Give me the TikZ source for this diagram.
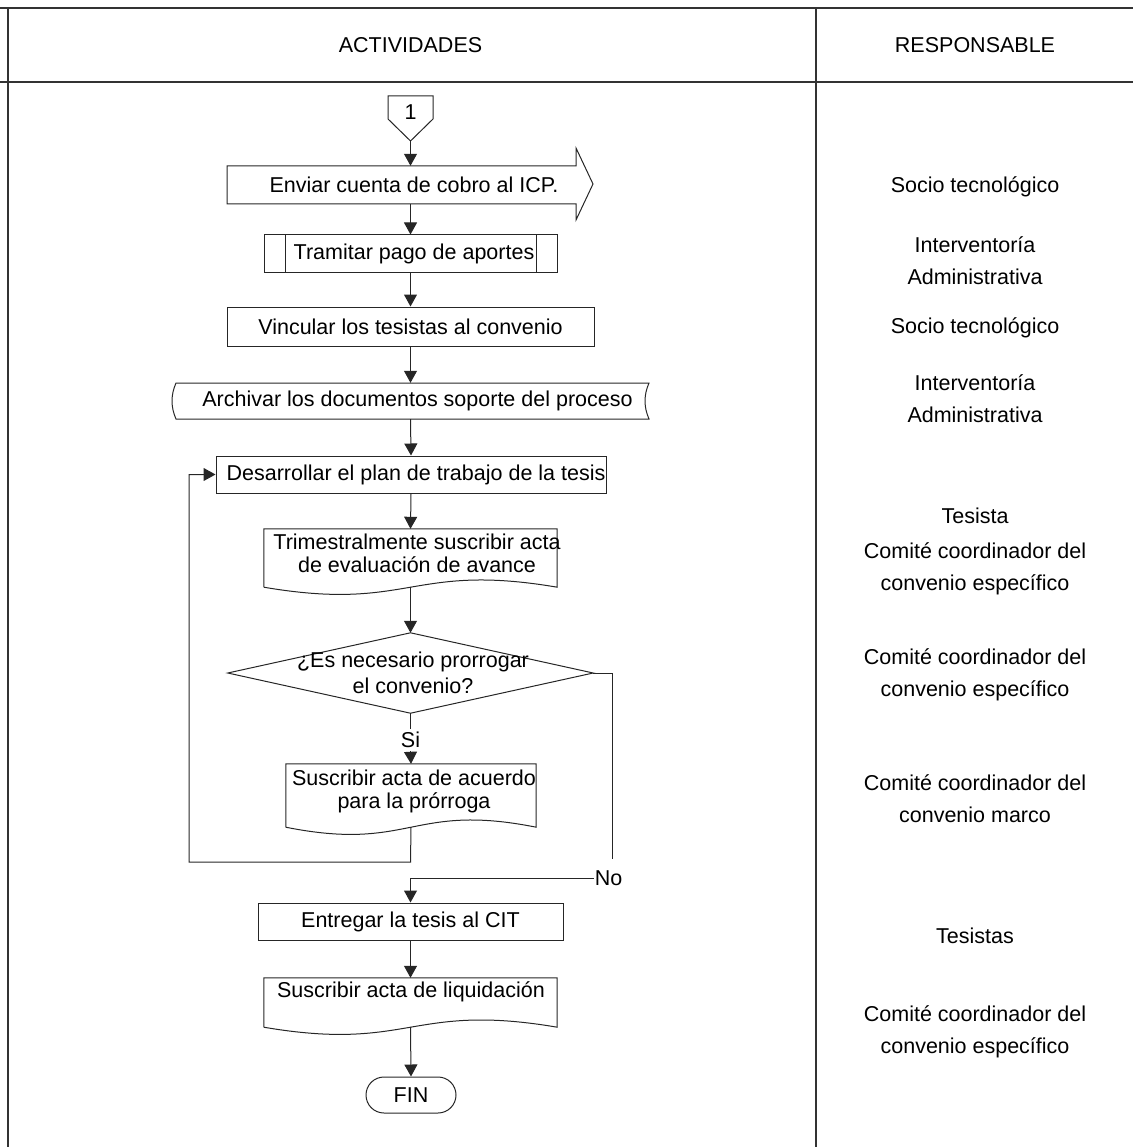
\documentclass[tikz,border=0pt]{standalone}
\usepackage{fontspec}
\setmainfont{Liberation Sans}
\usetikzlibrary{arrows.meta,calc}
\tikzset{
  ln/.style={line width=1pt, draw=black!85},
  arr/.style={ln, -{Triangle[width=13pt,length=12pt]}},
  txt/.style={font=\fontsize{21.5pt}{23.3pt}\selectfont, inner sep=0pt, align=center},
  rbox/.style={txt, draw=black!85, line width=1pt},
  shp/.style={inner sep=0pt, draw=none},
  gridln/.style={line width=2pt, draw=black!80},
  resp/.style={font=\fontsize{21.5pt}{32pt}\selectfont, align=center, inner sep=0pt},
}
\newcommand{\docshape}[1]{%
  \draw[ln] (#1.south west) -- (#1.north west) -- (#1.north east) -- (#1.south east)
    .. controls ($(#1.south)+(0,-25)$) and ($(#1.south)+(0,25)$) .. (#1.south west);}
\begin{document}
\begin{tikzpicture}[x=1pt,y=-1pt]
\useasboundingbox (0,0) rectangle (1133,1147);
% table
\draw[gridln] (0,8.5) -- (1133,8.5);
\draw[gridln] (0,82) -- (1133,82);
\draw[gridln] (8,8.5) -- (8,1147);
\draw[gridln] (816,8.5) -- (816,1147);
\node[resp] (h1) at (410.5,45) {ACTIVIDADES};
\node[resp] (h2) at (975,45) {RESPONSABLE};

% connector 1
\draw[ln] (388,96) -- (433,96) -- (433,119) -- (410.5,141) -- (388,119) -- cycle;
\node[txt] (c1) at (410.5,112) {1};
\coordinate (c1b) at (410.5,141);

% enviar (arrow shape)
\draw[ln] (227,166) -- (576,166) -- (576,148) -- (593,184) -- (576,220) -- (576,204) -- (227,204) -- cycle;
\node[txt, minimum height=38pt] (env) at (410.5,185) {\hspace*{7pt}Enviar cuenta de cobro al ICP.};

% tramitar (predefined process)
\node[rbox, minimum width=293pt, minimum height=38pt] (tra) at (410.5,254) {\hspace*{7pt}Tramitar pago de aportes};
\draw[ln] ([xshift=22pt]tra.north west) -- ([xshift=22pt]tra.south west);
\draw[ln] ([xshift=-21pt]tra.north east) -- ([xshift=-21pt]tra.south east);

% vincular
\node[rbox, minimum width=367pt, minimum height=39pt] (vin) at (410.5,326.5) {Vincular los tesistas al convenio};

% archivar (stored data)
\draw[ln] (176,383) -- (649,383) .. controls (643.7,395) and (643.7,407) .. (649,419)
  -- (176,419) .. controls (170.7,407) and (170.7,395) .. (176,383) -- cycle;
\node[txt, minimum height=36pt] (arc) at (410.5,401) {\hspace*{14pt}Archivar los documentos soporte del proceso};

% desarrollar
\node[rbox, minimum width=390pt, minimum height=37pt] (des) at (411,474.5) {\hspace*{10pt}Desarrollar el plan de trabajo de la tesis};

% trimestral (document)
\node[shp, minimum width=293pt, minimum height=58pt] (tri) at (410.5,558) {};
\docshape{tri}
\node[txt] (trit) at (417,553.5) {Trimestralmente suscribir acta\\de evaluación de avance};

% decision
\node[shp, minimum width=365pt, minimum height=80pt] (dec) at (410.5,673) {};
\draw[ln] (dec.north) -- (dec.east) -- (dec.south) -- (dec.west) -- cycle;
\node[txt, font=\fontsize{21.5pt}{26pt}\selectfont] (dect) at (413,673) {¿Es necesario prorrogar\\el convenio?};
\node[txt, minimum height=22pt] (si) at (410.5,740) {Si};

% acuerdo (document)
\node[shp, minimum width=250pt, minimum height=63pt] (acu) at (411,795.5) {};
\docshape{acu}
\node[txt] (acut) at (414,791.5) {Suscribir acta de acuerdo\\para la prórroga};

% No label
\node[txt, minimum height=38pt, inner xsep=1pt] (no) at (608.5,878) {No};

% entregar
\node[rbox, minimum width=305pt, minimum height=37pt] (ent) at (410.5,921.5) {Entregar la tesis al CIT};

% liquidacion (document)
\node[shp, minimum width=293pt, minimum height=49pt] (liq) at (410.5,1002.5) {};
\docshape{liq}
\node[txt] (liqt) at (411,992) {Suscribir acta de liquidación};

% FIN
\node[rbox, rounded corners=18pt, minimum width=90pt, minimum height=36pt] (fin) at (411,1095) {FIN};

% connectors
\draw[arr] (c1b) -- (env.north);
\draw[arr] (env.south) -- (tra.north);
\draw[arr] (tra.south) -- (vin.north);
\draw[arr] (vin.south) -- (arc.north);
\draw[arr] (arc.south) -- (des.north);
\draw[arr] (des.south) -- (tri.north);
\draw[arr] (tri.south) -- (dec.north);
\draw[ln] (dec.south) -- (si.north);
\draw[arr] (si.south) -- (acu.north);
\coordinate (lp1) at (410.5,862);
\coordinate (lp2) at (189,862);
\draw[arr] (acu.south) -- (lp1) -- (lp2) |- (des.west);
\draw[ln] (dec.east) -| ([xshift=4pt]no.north);
\draw[arr] (no.west) -| (ent.north);
\draw[arr] (ent.south) -- (liq.north);
\draw[arr] (liq.south) -- (fin.north);

% responsables
\node[resp] (r1) at (975,187) {Socio tecnológico};
\node[resp] (r2) at (975,260.5) {Interventoría\\Administrativa};
\node[resp] (r3) at (975,328) {Socio tecnológico};
\node[resp] (r4) at (975,398.5) {Interventoría\\Administrativa};
\node[resp] (r5) at (975,516) {Tesista};
\node[resp] (r6) at (975,569) {Comité coordinador del\\convenio específico};
\node[resp] (r7) at (975,674.5) {Comité coordinador del\\convenio específico};
\node[resp] (r8) at (975,799) {Comité coordinador del\\convenio marco};
\node[resp] (r9) at (975,936) {Tesistas};
\node[resp] (r10) at (975,1032) {Comité coordinador del\\convenio específico};
\end{tikzpicture}
\end{document}
